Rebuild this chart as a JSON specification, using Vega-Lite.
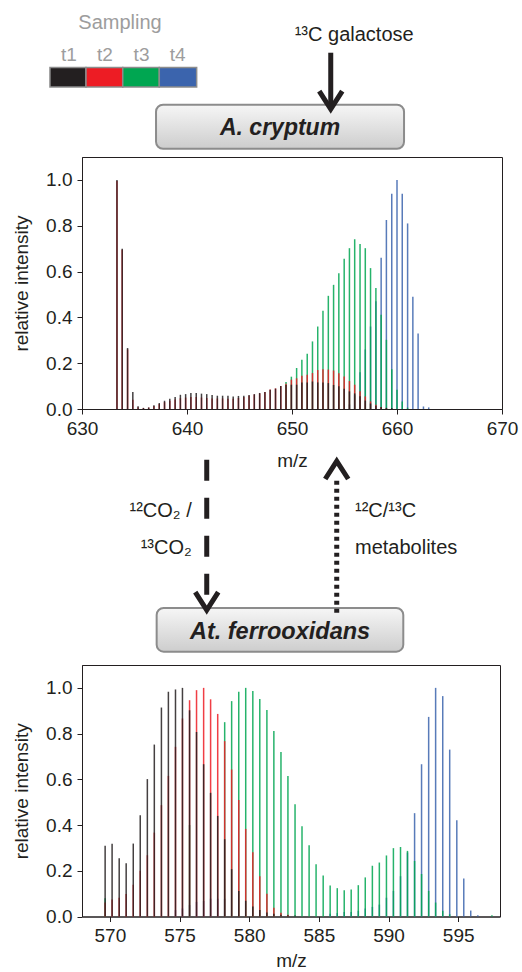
{
"$schema": "https://vega.github.io/schema/vega-lite/v6.json",
"padding": {"left": 12, "top": 12, "right": 0, "bottom": 0},
"background": "white",
"config": {
  "font": "Liberation Sans",
  "view": {"stroke": "#231f20", "strokeWidth": 1},
  "concat": {"spacing": 10},
  "axis": {"grid": false, "domainColor": "#231f20", "tickColor": "#231f20", "labelColor": "#231f20", "titleColor": "#231f20", "labelFont": "Liberation Sans", "titleFont": "Liberation Sans", "labelFontSize": 19, "titleFontSize": 19, "titleFontWeight": "normal", "tickSize": 5, "labelPadding": 5, "labelFlush": false, "labelOverlap": false},
  "axisY": {"titlePadding": 14},
  "axisX": {"titlePadding": 9}
},
"datasets": {
"top": [
{"mz":633.33,"t":"t1","i":1.0},{"mz":633.83,"t":"t1","i":0.70},{"mz":634.34,"t":"t1","i":0.266},{"mz":634.84,"t":"t1","i":0.074},{"mz":635.34,"t":"t1","i":0.012},{"mz":635.85,"t":"t1","i":0.005},{"mz":636.35,"t":"t1","i":0.007},{"mz":636.85,"t":"t1","i":0.016},{"mz":637.36,"t":"t1","i":0.026},{"mz":637.86,"t":"t1","i":0.036},{"mz":638.36,"t":"t1","i":0.045},{"mz":638.87,"t":"t1","i":0.052},{"mz":639.37,"t":"t1","i":0.062},{"mz":639.87,"t":"t1","i":0.065},{"mz":640.37,"t":"t1","i":0.07},{"mz":640.88,"t":"t1","i":0.07},{"mz":641.38,"t":"t1","i":0.067},{"mz":641.88,"t":"t1","i":0.065},{"mz":642.39,"t":"t1","i":0.061},{"mz":642.89,"t":"t1","i":0.058},{"mz":643.39,"t":"t1","i":0.058},{"mz":643.90,"t":"t1","i":0.058},{"mz":644.40,"t":"t1","i":0.055},{"mz":644.90,"t":"t1","i":0.057},{"mz":645.41,"t":"t1","i":0.058},{"mz":645.91,"t":"t1","i":0.061},{"mz":646.41,"t":"t1","i":0.065},{"mz":646.92,"t":"t1","i":0.07},{"mz":647.42,"t":"t1","i":0.074},{"mz":647.92,"t":"t1","i":0.084},{"mz":648.43,"t":"t1","i":0.089},{"mz":648.93,"t":"t1","i":0.10},{"mz":649.43,"t":"t1","i":0.105},{"mz":649.94,"t":"t1","i":0.106},{"mz":650.44,"t":"t1","i":0.106},{"mz":650.94,"t":"t1","i":0.116},{"mz":651.45,"t":"t1","i":0.116},{"mz":651.95,"t":"t1","i":0.12},{"mz":652.45,"t":"t1","i":0.116},{"mz":652.95,"t":"t1","i":0.116},{"mz":653.46,"t":"t1","i":0.113},{"mz":653.96,"t":"t1","i":0.105},{"mz":654.46,"t":"t1","i":0.099},{"mz":654.97,"t":"t1","i":0.088},{"mz":655.47,"t":"t1","i":0.077},{"mz":655.97,"t":"t1","i":0.068},{"mz":656.48,"t":"t1","i":0.056},{"mz":656.98,"t":"t1","i":0.037},{"mz":657.48,"t":"t1","i":0.024},{"mz":657.99,"t":"t1","i":0.014},{"mz":658.49,"t":"t1","i":0.009},{"mz":658.99,"t":"t1","i":0.005},{"mz":659.50,"t":"t1","i":0.004},
{"mz":633.33,"t":"t2","i":0.995},{"mz":633.83,"t":"t2","i":0.695},{"mz":634.34,"t":"t2","i":0.26},{"mz":634.84,"t":"t2","i":0.04},{"mz":635.34,"t":"t2","i":0.008},{"mz":635.85,"t":"t2","i":0.004},{"mz":636.35,"t":"t2","i":0.006},{"mz":636.85,"t":"t2","i":0.013},{"mz":637.36,"t":"t2","i":0.022},{"mz":637.86,"t":"t2","i":0.03},{"mz":638.36,"t":"t2","i":0.036},{"mz":638.87,"t":"t2","i":0.042},{"mz":639.37,"t":"t2","i":0.047},{"mz":639.87,"t":"t2","i":0.05},{"mz":640.37,"t":"t2","i":0.052},{"mz":640.88,"t":"t2","i":0.052},{"mz":641.38,"t":"t2","i":0.05},{"mz":641.88,"t":"t2","i":0.048},{"mz":642.39,"t":"t2","i":0.046},{"mz":642.89,"t":"t2","i":0.046},{"mz":643.39,"t":"t2","i":0.046},{"mz":643.90,"t":"t2","i":0.045},{"mz":644.40,"t":"t2","i":0.045},{"mz":644.90,"t":"t2","i":0.048},{"mz":645.41,"t":"t2","i":0.052},{"mz":645.91,"t":"t2","i":0.058},{"mz":646.41,"t":"t2","i":0.063},{"mz":646.92,"t":"t2","i":0.068},{"mz":647.42,"t":"t2","i":0.074},{"mz":647.92,"t":"t2","i":0.085},{"mz":648.43,"t":"t2","i":0.09},{"mz":648.93,"t":"t2","i":0.10},{"mz":649.43,"t":"t2","i":0.11},{"mz":649.94,"t":"t2","i":0.128},{"mz":650.44,"t":"t2","i":0.134},{"mz":650.94,"t":"t2","i":0.145},{"mz":651.45,"t":"t2","i":0.15},{"mz":651.95,"t":"t2","i":0.157},{"mz":652.45,"t":"t2","i":0.17},{"mz":652.95,"t":"t2","i":0.174},{"mz":653.46,"t":"t2","i":0.172},{"mz":653.96,"t":"t2","i":0.168},{"mz":654.46,"t":"t2","i":0.156},{"mz":654.97,"t":"t2","i":0.142},{"mz":655.47,"t":"t2","i":0.122},{"mz":655.97,"t":"t2","i":0.106},{"mz":656.48,"t":"t2","i":0.077},{"mz":656.98,"t":"t2","i":0.055},{"mz":657.48,"t":"t2","i":0.033},{"mz":657.99,"t":"t2","i":0.019},{"mz":658.49,"t":"t2","i":0.009},{"mz":658.99,"t":"t2","i":0.004},
{"mz":649.43,"t":"t3","i":0.118},{"mz":649.94,"t":"t3","i":0.141},{"mz":650.44,"t":"t3","i":0.179},{"mz":650.94,"t":"t3","i":0.215},{"mz":651.45,"t":"t3","i":0.241},{"mz":651.95,"t":"t3","i":0.295},{"mz":652.45,"t":"t3","i":0.36},{"mz":652.95,"t":"t3","i":0.429},{"mz":653.46,"t":"t3","i":0.494},{"mz":653.96,"t":"t3","i":0.542},{"mz":654.46,"t":"t3","i":0.593},{"mz":654.97,"t":"t3","i":0.656},{"mz":655.47,"t":"t3","i":0.702},{"mz":655.97,"t":"t3","i":0.741},{"mz":656.48,"t":"t3","i":0.72},{"mz":656.98,"t":"t3","i":0.702},{"mz":657.48,"t":"t3","i":0.615},{"mz":657.99,"t":"t3","i":0.528},{"mz":658.49,"t":"t3","i":0.411},{"mz":658.99,"t":"t3","i":0.302},{"mz":659.50,"t":"t3","i":0.174},{"mz":660.00,"t":"t3","i":0.084},{"mz":660.50,"t":"t3","i":0.033},{"mz":661.01,"t":"t3","i":0.006},
{"mz":655.47,"t":"t4","i":0.02},{"mz":655.97,"t":"t4","i":0.06},{"mz":656.48,"t":"t4","i":0.16},{"mz":656.98,"t":"t4","i":0.26},{"mz":657.48,"t":"t4","i":0.36},{"mz":657.99,"t":"t4","i":0.47},{"mz":658.49,"t":"t4","i":0.66},{"mz":658.99,"t":"t4","i":0.825},{"mz":659.50,"t":"t4","i":0.94},{"mz":660.00,"t":"t4","i":1.0},{"mz":660.50,"t":"t4","i":0.94},{"mz":661.01,"t":"t4","i":0.81},{"mz":661.51,"t":"t4","i":0.49},{"mz":662.01,"t":"t4","i":0.33},{"mz":662.52,"t":"t4","i":0.011},{"mz":663.02,"t":"t4","i":0.007}
],
"bottom": [
{"mz":569.66,"t":"t1","i":0.309},{"mz":570.16,"t":"t1","i":0.318},{"mz":570.67,"t":"t1","i":0.255},{"mz":571.17,"t":"t1","i":0.233},{"mz":571.68,"t":"t1","i":0.319},{"mz":572.18,"t":"t1","i":0.443},{"mz":572.69,"t":"t1","i":0.601},{"mz":573.19,"t":"t1","i":0.752},{"mz":573.70,"t":"t1","i":0.914},{"mz":574.20,"t":"t1","i":0.983},{"mz":574.71,"t":"t1","i":0.993},{"mz":575.21,"t":"t1","i":1.0},{"mz":575.72,"t":"t1","i":0.902},{"mz":576.22,"t":"t1","i":0.807},{"mz":576.73,"t":"t1","i":0.666},{"mz":577.23,"t":"t1","i":0.541},{"mz":577.74,"t":"t1","i":0.44},{"mz":578.24,"t":"t1","i":0.338},{"mz":578.74,"t":"t1","i":0.207},{"mz":579.25,"t":"t1","i":0.111},{"mz":579.75,"t":"t1","i":0.069},{"mz":580.26,"t":"t1","i":0.044},{"mz":580.76,"t":"t1","i":0.028},{"mz":581.27,"t":"t1","i":0.017},{"mz":581.77,"t":"t1","i":0.012},{"mz":582.28,"t":"t1","i":0.008},{"mz":582.78,"t":"t1","i":0.006},{"mz":583.29,"t":"t1","i":0.004},
{"mz":569.66,"t":"t2","i":0.061},{"mz":570.16,"t":"t2","i":0.074},{"mz":570.67,"t":"t2","i":0.082},{"mz":571.17,"t":"t2","i":0.098},{"mz":571.68,"t":"t2","i":0.139},{"mz":572.18,"t":"t2","i":0.2},{"mz":572.69,"t":"t2","i":0.268},{"mz":573.19,"t":"t2","i":0.367},{"mz":573.70,"t":"t2","i":0.487},{"mz":574.20,"t":"t2","i":0.615},{"mz":574.71,"t":"t2","i":0.742},{"mz":575.21,"t":"t2","i":0.866},{"mz":575.72,"t":"t2","i":0.946},{"mz":576.22,"t":"t2","i":0.99},{"mz":576.73,"t":"t2","i":1.0},{"mz":577.23,"t":"t2","i":0.95},{"mz":577.74,"t":"t2","i":0.886},{"mz":578.24,"t":"t2","i":0.767},{"mz":578.74,"t":"t2","i":0.643},{"mz":579.25,"t":"t2","i":0.509},{"mz":579.75,"t":"t2","i":0.383},{"mz":580.26,"t":"t2","i":0.281},{"mz":580.76,"t":"t2","i":0.176},{"mz":581.27,"t":"t2","i":0.10},{"mz":581.77,"t":"t2","i":0.038},{"mz":582.28,"t":"t2","i":0.016},{"mz":582.78,"t":"t2","i":0.008},
{"mz":569.66,"t":"t3","i":0.08},{"mz":575.72,"t":"t3","i":0.40},{"mz":578.24,"t":"t3","i":0.85},{"mz":578.74,"t":"t3","i":0.942},{"mz":579.25,"t":"t3","i":0.983},{"mz":579.75,"t":"t3","i":1.0},{"mz":580.26,"t":"t3","i":0.986},{"mz":580.76,"t":"t3","i":0.951},{"mz":581.27,"t":"t3","i":0.903},{"mz":581.77,"t":"t3","i":0.811},{"mz":582.28,"t":"t3","i":0.719},{"mz":582.78,"t":"t3","i":0.615},{"mz":583.29,"t":"t3","i":0.491},{"mz":583.79,"t":"t3","i":0.395},{"mz":584.30,"t":"t3","i":0.312},{"mz":584.80,"t":"t3","i":0.229},{"mz":585.31,"t":"t3","i":0.179},{"mz":585.81,"t":"t3","i":0.136},{"mz":586.32,"t":"t3","i":0.124},{"mz":586.82,"t":"t3","i":0.115},{"mz":587.32,"t":"t3","i":0.118},{"mz":587.83,"t":"t3","i":0.137},{"mz":588.33,"t":"t3","i":0.171},{"mz":588.84,"t":"t3","i":0.222},{"mz":589.34,"t":"t3","i":0.236},{"mz":589.85,"t":"t3","i":0.267},{"mz":590.35,"t":"t3","i":0.299},{"mz":590.86,"t":"t3","i":0.304},{"mz":591.36,"t":"t3","i":0.287},{"mz":591.87,"t":"t3","i":0.243},{"mz":592.37,"t":"t3","i":0.186},{"mz":592.88,"t":"t3","i":0.112},{"mz":593.38,"t":"t3","i":0.061},{"mz":593.89,"t":"t3","i":0.025},{"mz":594.39,"t":"t3","i":0.01},{"mz":597.42,"t":"t3","i":0.006},
{"mz":574.71,"t":"t4","i":0.028},{"mz":575.21,"t":"t4","i":0.035},{"mz":575.72,"t":"t4","i":0.05},{"mz":576.22,"t":"t4","i":0.064},{"mz":576.73,"t":"t4","i":0.068},{"mz":577.23,"t":"t4","i":0.078},{"mz":577.74,"t":"t4","i":0.078},{"mz":578.24,"t":"t4","i":0.078},{"mz":585.81,"t":"t4","i":0.012},{"mz":586.32,"t":"t4","i":0.015},{"mz":586.82,"t":"t4","i":0.02},{"mz":587.32,"t":"t4","i":0.02},{"mz":587.83,"t":"t4","i":0.025},{"mz":588.33,"t":"t4","i":0.035},{"mz":588.84,"t":"t4","i":0.042},{"mz":589.34,"t":"t4","i":0.052},{"mz":589.85,"t":"t4","i":0.082},{"mz":590.35,"t":"t4","i":0.112},{"mz":590.86,"t":"t4","i":0.176},{"mz":591.36,"t":"t4","i":0.28},{"mz":591.87,"t":"t4","i":0.452},{"mz":592.37,"t":"t4","i":0.666},{"mz":592.88,"t":"t4","i":0.873},{"mz":593.38,"t":"t4","i":1.0},{"mz":593.89,"t":"t4","i":0.964},{"mz":594.39,"t":"t4","i":0.73},{"mz":594.90,"t":"t4","i":0.421},{"mz":595.40,"t":"t4","i":0.166},{"mz":595.90,"t":"t4","i":0.026},{"mz":596.41,"t":"t4","i":0.006}
]
},
"vconcat": [
{
  "width": 420, "height": 252,
  "layer": [
    {
      "data": {"name": "top"},
      "mark": {"type": "rule", "strokeWidth": 1.5, "opacity": 0.85},
      "encoding": {
        "x": {"field": "mz", "type": "quantitative", "scale": {"domain": [630, 670], "nice": false, "zero": false}, "axis": {"title": "m/z", "values": [630, 640, 650, 660, 670], "titlePadding": 13}},
        "y": {"field": "i", "type": "quantitative", "scale": {"domain": [0, 1.1], "nice": false}, "axis": {"title": "relative intensity", "values": [0, 0.2, 0.4, 0.6, 0.8, 1.0], "format": ".1f"}},
        "y2": {"datum": 0},
        "color": {"field": "t", "type": "nominal", "scale": {"domain": ["t1", "t2", "t3", "t4"], "range": ["#231f20", "#ed1c24", "#00a651", "#3b64ad"]}, "legend": null},
        "order": {"field": "t", "sort": "descending"}
      }
    },
    {"data": {"values": [{}]}, "mark": {"type": "rect", "cornerRadius": 7, "stroke": "#8c8c8c", "strokeWidth": 2, "fill": {"gradient": "linear", "x1": 0, "y1": 0, "x2": 0, "y2": 1, "stops": [{"offset": 0, "color": "#f6f6f6"}, {"offset": 1, "color": "#cdcdcd"}]}},
     "encoding": {"x": {"datum": 637.05, "type": "quantitative"}, "x2": {"datum": 660.67}, "y": {"datum": 1.3282, "type": "quantitative"}, "y2": {"datum": 1.1361}}},
    {"data": {"values": [{}]}, "mark": {"type": "rect", "cornerRadius": 7, "stroke": "#8c8c8c", "strokeWidth": 2, "fill": {"gradient": "linear", "x1": 0, "y1": 0, "x2": 0, "y2": 1, "stops": [{"offset": 0, "color": "#f6f6f6"}, {"offset": 1, "color": "#cdcdcd"}]}},
     "encoding": {"x": {"datum": 637.11, "type": "quantitative"}, "x2": {"datum": 660.6}, "y": {"datum": -0.8686, "type": "quantitative"}, "y2": {"datum": -1.0594}}},
    {"data": {"values": [{}]}, "mark": {"type": "text", "text": "A. cryptum", "font": "Liberation Sans", "fontSize": 23, "fontWeight": "bold", "fontStyle": "italic", "align": "center", "baseline": "alphabetic", "color": "#231f20"},
     "encoding": {"x": {"datum": 648.86, "type": "quantitative"}, "y": {"datum": 1.1942, "type": "quantitative"}}},
    {"data": {"values": [{}]}, "mark": {"type": "text", "text": "At. ferrooxidans", "font": "Liberation Sans", "fontSize": 23.5, "fontWeight": "bold", "fontStyle": "italic", "align": "center", "baseline": "alphabetic", "color": "#231f20"},
     "encoding": {"x": {"datum": 648.86, "type": "quantitative"}, "y": {"datum": -1.0026, "type": "quantitative"}}},
    {"data": {"values": [{}]}, "mark": {"type": "text", "text": "¹³C galactose", "font": "Liberation Sans", "fontSize": 20, "align": "center", "baseline": "alphabetic", "color": "#231f20"},
     "encoding": {"x": {"datum": 655.92, "type": "quantitative"}, "y": {"datum": 1.6045, "type": "quantitative"}}},
    {"data": {"values": [{}]}, "mark": {"type": "text", "text": "Sampling", "font": "Liberation Sans", "fontSize": 20, "align": "center", "baseline": "alphabetic", "color": "#9d9d9d"},
     "encoding": {"x": {"datum": 633.62, "type": "quantitative"}, "y": {"datum": 1.6586, "type": "quantitative"}}},
    {"data": {"values": [{}]}, "mark": {"type": "text", "text": "t1", "font": "Liberation Sans", "fontSize": 19, "align": "center", "baseline": "alphabetic", "color": "#9d9d9d"},
     "encoding": {"x": {"datum": 628.76, "type": "quantitative"}, "y": {"datum": 1.5173, "type": "quantitative"}}},
    {"data": {"values": [{}]}, "mark": {"type": "text", "text": "t2", "font": "Liberation Sans", "fontSize": 19, "align": "center", "baseline": "alphabetic", "color": "#9d9d9d"},
     "encoding": {"x": {"datum": 632.19, "type": "quantitative"}, "y": {"datum": 1.5173, "type": "quantitative"}}},
    {"data": {"values": [{}]}, "mark": {"type": "text", "text": "t3", "font": "Liberation Sans", "fontSize": 19, "align": "center", "baseline": "alphabetic", "color": "#9d9d9d"},
     "encoding": {"x": {"datum": 635.67, "type": "quantitative"}, "y": {"datum": 1.5173, "type": "quantitative"}}},
    {"data": {"values": [{}]}, "mark": {"type": "text", "text": "t4", "font": "Liberation Sans", "fontSize": 19, "align": "center", "baseline": "alphabetic", "color": "#9d9d9d"},
     "encoding": {"x": {"datum": 639.10, "type": "quantitative"}, "y": {"datum": 1.5173, "type": "quantitative"}}},
    {"data": {"values": [{}]}, "mark": {"type": "rect", "stroke": "#8c8c8c", "strokeWidth": 1.5},
     "encoding": {"x": {"datum": 626.95, "type": "quantitative"}, "x2": {"datum": 630.38}, "y": {"datum": 1.4911, "type": "quantitative"}, "y2": {"datum": 1.4055}, "color": {"datum": "t1", "type": "nominal", "legend": null}}},
    {"data": {"values": [{}]}, "mark": {"type": "rect", "stroke": "#8c8c8c", "strokeWidth": 1.5},
     "encoding": {"x": {"datum": 630.38, "type": "quantitative"}, "x2": {"datum": 633.88}, "y": {"datum": 1.4911, "type": "quantitative"}, "y2": {"datum": 1.4055}, "color": {"datum": "t2", "type": "nominal", "legend": null}}},
    {"data": {"values": [{}]}, "mark": {"type": "rect", "stroke": "#8c8c8c", "strokeWidth": 1.5},
     "encoding": {"x": {"datum": 633.88, "type": "quantitative"}, "x2": {"datum": 637.36}, "y": {"datum": 1.4911, "type": "quantitative"}, "y2": {"datum": 1.4055}, "color": {"datum": "t3", "type": "nominal", "legend": null}}},
    {"data": {"values": [{}]}, "mark": {"type": "rect", "stroke": "#8c8c8c", "strokeWidth": 1.5},
     "encoding": {"x": {"datum": 637.36, "type": "quantitative"}, "x2": {"datum": 640.92}, "y": {"datum": 1.4911, "type": "quantitative"}, "y2": {"datum": 1.4055}, "color": {"datum": "t4", "type": "nominal", "legend": null}}},
    {"data": {"values": [{}]}, "mark": {"type": "rule", "strokeWidth": 5, "color": "#231f20", "strokeCap": "butt"},
     "encoding": {"x": {"datum": 653.69, "type": "quantitative"}, "y": {"datum": 1.5552, "type": "quantitative"}, "y2": {"datum": 1.3151}}},
    {"data": {"values": [{}]}, "mark": {"type": "point", "shape": "M-1,-0.78L0,0.78L1,-0.78", "filled": false, "size": 529, "strokeWidth": 5, "strokeJoin": "miter", "opacity": 1, "color": "#231f20"},
     "encoding": {"x": {"datum": 653.69, "type": "quantitative"}, "y": {"datum": 1.3483, "type": "quantitative"}}},
    {"data": {"values": [{}]}, "mark": {"type": "rule", "strokeWidth": 5, "color": "#231f20", "strokeCap": "butt", "strokeDash": [21, 17]},
     "encoding": {"x": {"datum": 641.88, "type": "quantitative"}, "y": {"datum": -0.2213, "type": "quantitative"}, "y2": {"datum": -0.8193}}},
    {"data": {"values": [{}]}, "mark": {"type": "point", "shape": "M-1,-0.78L0,0.78L1,-0.78", "filled": false, "size": 529, "strokeWidth": 5, "strokeJoin": "miter", "opacity": 1, "color": "#231f20"},
     "encoding": {"x": {"datum": 641.88, "type": "quantitative"}, "y": {"datum": -0.8385, "type": "quantitative"}}},
    {"data": {"values": [{}]}, "mark": {"type": "rule", "strokeWidth": 5, "color": "#231f20", "strokeCap": "butt", "strokeDash": [4, 4]},
     "encoding": {"x": {"datum": 654.26, "type": "quantitative"}, "y": {"datum": -0.8891, "type": "quantitative"}, "y2": {"datum": -0.2990}}},
    {"data": {"values": [{}]}, "mark": {"type": "point", "shape": "M-1,0.78L0,-0.78L1,0.78", "filled": false, "size": 529, "strokeWidth": 5, "strokeJoin": "miter", "opacity": 1, "color": "#231f20"},
     "encoding": {"x": {"datum": 654.26, "type": "quantitative"}, "y": {"datum": -0.2663, "type": "quantitative"}}},
    {"data": {"values": [{}]}, "mark": {"type": "text", "text": "¹²CO₂ /", "font": "Liberation Sans", "fontSize": 20, "align": "right", "baseline": "alphabetic", "color": "#231f20"},
     "encoding": {"x": {"datum": 640.45, "type": "quantitative"}, "y": {"datum": -0.4714, "type": "quantitative"}}},
    {"data": {"values": [{}]}, "mark": {"type": "text", "text": "¹³CO₂", "font": "Liberation Sans", "fontSize": 20, "align": "right", "baseline": "alphabetic", "color": "#231f20"},
     "encoding": {"x": {"datum": 640.45, "type": "quantitative"}, "y": {"datum": -0.6329, "type": "quantitative"}}},
    {"data": {"values": [{}]}, "mark": {"type": "text", "text": "¹²C/¹³C", "font": "Liberation Sans", "fontSize": 20, "align": "left", "baseline": "alphabetic", "color": "#231f20"},
     "encoding": {"x": {"datum": 656.0, "type": "quantitative"}, "y": {"datum": -0.4714, "type": "quantitative"}}},
    {"data": {"values": [{}]}, "mark": {"type": "text", "text": "metabolites", "font": "Liberation Sans", "fontSize": 20, "align": "left", "baseline": "alphabetic", "color": "#231f20"},
     "encoding": {"x": {"datum": 656.0, "type": "quantitative"}, "y": {"datum": -0.6329, "type": "quantitative"}}}
  ]
},
{
  "width": 418, "height": 251.5,
  "data": {"name": "bottom"},
  "mark": {"type": "rule", "strokeWidth": 1.5, "opacity": 0.85},
  "encoding": {
    "x": {"field": "mz", "type": "quantitative", "scale": {"domain": [568, 598], "nice": false, "zero": false}, "axis": {"title": "m/z", "values": [570, 575, 580, 585, 590, 595], "titlePadding": 6}},
    "y": {"field": "i", "type": "quantitative", "scale": {"domain": [0, 1.1], "nice": false}, "axis": {"title": "relative intensity", "values": [0, 0.2, 0.4, 0.6, 0.8, 1.0], "format": ".1f"}},
    "y2": {"datum": 0},
    "color": {"field": "t", "type": "nominal", "scale": {"domain": ["t1", "t2", "t3", "t4"], "range": ["#231f20", "#ed1c24", "#00a651", "#3b64ad"]}, "legend": null},
    "order": {"field": "t", "sort": "descending"}
  }
}
]
}
